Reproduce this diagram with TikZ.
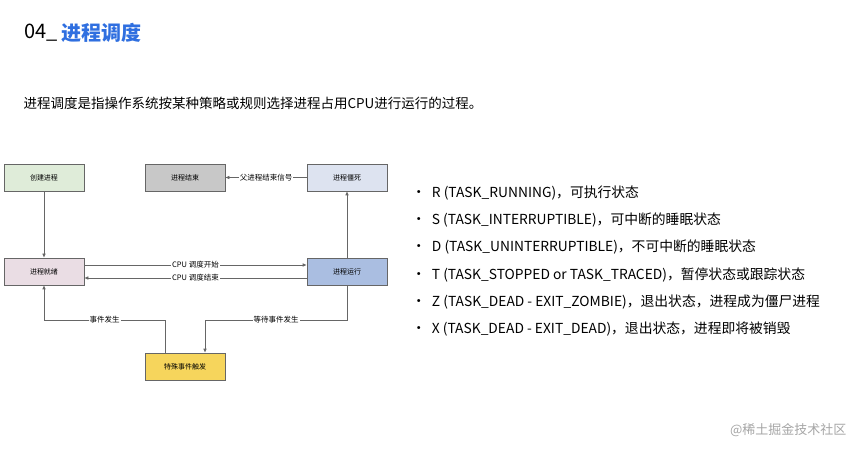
\documentclass[tikz,border=0pt]{standalone}
\usepackage{fontspec}
\setmainfont{Noto Sans CJK SC}
\usetikzlibrary{arrows.meta}
\definecolor{ttl}{HTML}{2F6FE0}
\tikzset{
 box/.style={draw=black!60,line width=0.6pt,minimum width=80pt,minimum height=27pt,inner sep=0pt,font=\fontsize{7}{8}\selectfont},
 conn/.style={draw=black!60,line width=0.6pt,-{Latex[length=4pt,width=3.5pt]}},
 lbl/.style={fill=white,inner sep=1pt,font=\fontsize{7.5}{8}\selectfont},
 bul/.style={anchor=west,font=\fontsize{13.8}{15}\selectfont}
}
\begin{document}
\begin{tikzpicture}[x=1pt,y=-1pt]
\useasboundingbox[fill=white] (0,0) rectangle (862,454);
\node[anchor=west,font=\fontsize{20}{22}\selectfont] (t1) at (21,33) {04\_};
\node[anchor=west,font=\fontsize{20}{22}\selectfont\bfseries,text=ttl,inner sep=0pt] (t2) at (t1.east) {进程调度};
\node[anchor=west,font=\fontsize{13.5}{15}\selectfont] (sub) at (20,103) {进程调度是指操作系统按某种策略或规则选择进程占用CPU进行运行的过程。};
\node[box,fill={rgb,255:red,223;green,236;blue,217}] (cr) at (44,177.5) {创建进程};
\node[box,fill={rgb,255:red,200;green,200;blue,200}] (end) at (185,177.5) {进程结束};
\node[box,fill={rgb,255:red,221;green,227;blue,240}] (zb) at (347,177.5) {进程僵死};
\node[box,fill={rgb,255:red,234;green,221;blue,228}] (rd) at (44,271.5) {进程就绪};
\node[box,fill={rgb,255:red,170;green,190;blue,225}] (run) at (347,271.5) {进程运行};
\node[box,fill={rgb,255:red,246;green,213;blue,92}] (ev) at (185,366.5) {特殊事件触发};
\draw[conn] (cr) -- (rd);
\draw[conn] (run) -- (zb);
\draw[conn] (zb) -- node[lbl]{父进程结束信号} (end);
\draw[conn] ([yshift=6.5pt]rd.east) -- node[lbl]{CPU 调度开始} ([yshift=6.5pt]run.west);
\draw[conn] ([yshift=-6.5pt]run.west) -- node[lbl]{CPU 调度结束} ([yshift=-6.5pt]rd.east);
\draw[conn] ([xshift=-20pt]ev.north) |- node[lbl,pos=0.75]{事件发生} (44,320) -- (rd.south);
\draw[conn] (run.south) |- node[lbl,pos=0.75]{等待事件发生} (205,320) -- ([xshift=20pt]ev.north);
\foreach \i/\t in {0/{R (TASK\_RUNNING)，可执行状态},1/{S (TASK\_INTERRUPTIBLE)，可中断的睡眠状态},2/{D (TASK\_UNINTERRUPTIBLE)，不可中断的睡眠状态},3/{T (TASK\_STOPPED or TASK\_TRACED)，暂停状态或跟踪状态},4/{Z (TASK\_DEAD - EXIT\_ZOMBIE)，退出状态，进程成为僵尸进程},5/{X (TASK\_DEAD - EXIT\_DEAD)，退出状态，进程即将被销毁}}
  \node[bul] (b\i) at (408,{193+27.2*\i}) {{\Large\textbullet}\hspace{6pt}\t};
\node[anchor=east,font=\fontsize{13}{14}\selectfont,text=black!35] (wm) at (850,430) {@稀土掘金技术社区};
\end{tikzpicture}
\end{document}
